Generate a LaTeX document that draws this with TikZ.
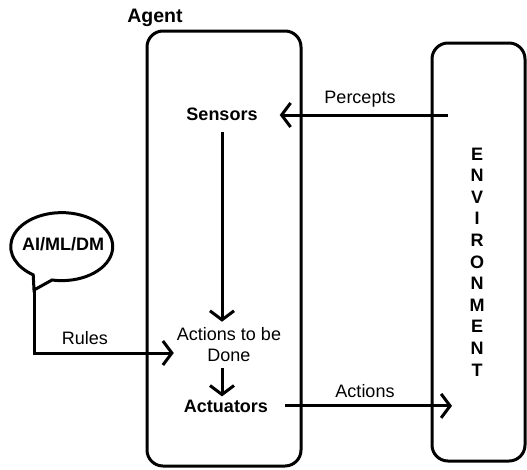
\documentclass[tikz,border=0pt]{standalone}
\usepackage{fontspec}
\setmainfont{Liberation Sans}
\usetikzlibrary{positioning, arrows.meta, calc}

\tikzset{
  frame/.style={line width=3pt, rounded corners=16pt},
  ln/.style={line width=3pt},
  arr/.style={ln, -{Straight Barb[length=9pt, width=24pt]}},
  lbl/.style={font=\fontsize{18}{21}\selectfont},
  blbl/.style={font=\fontsize{18}{21}\selectfont\bfseries},
}

\begin{document}
\begin{tikzpicture}[x=1pt, y=-1pt]
  \useasboundingbox (0,0) rectangle (527,469);

  % agent and environment frames
  \draw[frame] (147,31) rectangle (301,466);
  \draw[frame] (432,43) rectangle (525,461);
  \node[blbl, font=\fontsize{19.5}{22}\selectfont\bfseries, anchor=base] (agent) at (155,22) {Agent};
  \node[blbl, align=center, font=\fontsize{18}{21.6}\selectfont\bfseries] (env) at (477,262)
    {E\\N\\V\\I\\R\\O\\N\\M\\E\\N\\T};

  % inside the agent
  \node[blbl, anchor=base, inner xsep=22pt, inner ysep=12pt] (sensors) at (222,120) {Sensors};
  \node[lbl, align=center, inner xsep=3pt, inner ysep=6pt] (todo) at (229,345) {Actions to be\\Done};
  \node[blbl, anchor=base, inner xsep=17pt, inner ysep=3pt] (actuators) at (226,412) {Actuators};

  % speech bubble
  \coordinate (tail) at (34,290);
  \draw[ln] (tail) -- (52,280) arc[start angle=101, end angle=-236, x radius=51, y radius=34] -- cycle;
  \node[blbl, anchor=base] (ai) at (63,250) {AI/ML/DM};

  % connectors
  \coordinate (perc) at (448,115);
  \coordinate (act) at (452,407);
  \draw[arr] (perc) -- (sensors.east |- perc);
  \draw[arr] (sensors.south) -- (sensors.south |- todo.north);
  \draw[arr] (todo.south -| sensors) -- (actuators.north -| sensors);
  \draw[arr] (actuators.east) -- (actuators.east -| act);
  \draw[arr] (tail) |- ([yshift=-8pt]todo.west);

  % connector labels
  \node[lbl, anchor=base] (perclbl) at (360,103) {Percepts};
  \node[lbl, anchor=base] (actlbl) at (365,397) {Actions};
  \node[lbl, anchor=base] (ruleslbl) at (85,344) {Rules};
\end{tikzpicture}
\end{document}
